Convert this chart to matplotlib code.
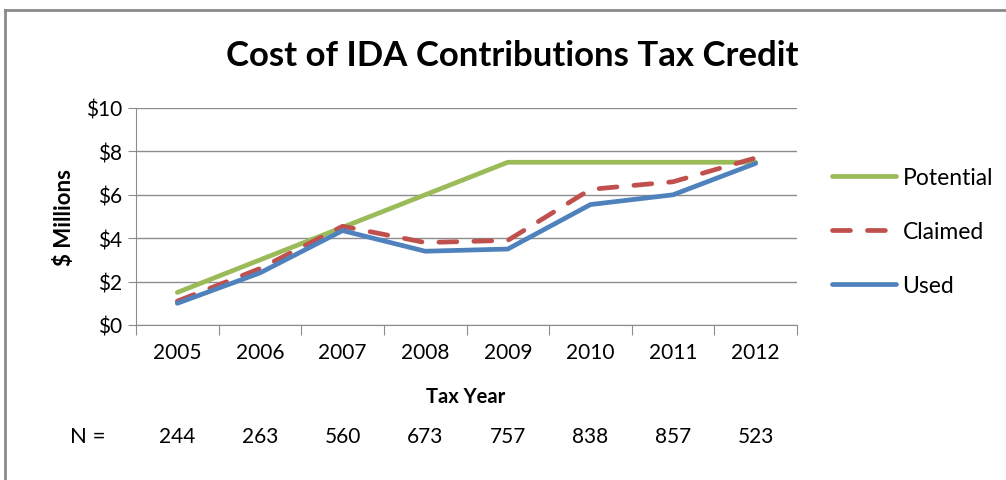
import numpy as np
import matplotlib.pyplot as plt
from matplotlib.lines import Line2D
import matplotlib.transforms as mtransforms

plt.rcParams['font.family'] = ['Lato', 'DejaVu Sans']

years = ["2005", "2006", "2007", "2008", "2009", "2010", "2011", "2012"]
potential = [1.5, 3.0, 4.5, 6.0, 7.5, 7.5, 7.5, 7.5]
claimed = [1.1, 2.6, 4.55, 3.8, 3.9, 6.25, 6.6, 7.7]
used = [1.0, 2.4, 4.35, 3.4, 3.5, 5.55, 6.0, 7.45]
n_counts = [244, 263, 560, 673, 757, 838, 857, 523]

fig = plt.figure(figsize=(10.06, 4.81), dpi=100)
ax = fig.add_axes([136 / 1006, 1 - 326 / 481, (797 - 136) / 1006, (326 - 109) / 481])

x = np.arange(len(years))
ax.plot(x, potential, color="#9BBB59", lw=3.4, label="Potential", solid_capstyle="round")
ax.plot(x, claimed, color="#C0504D", lw=3.4, label="Claimed", dashes=(3.8, 3.6),
        dash_capstyle="round")
ax.plot(x, used, color="#4F81BD", lw=3.4, label="Used", solid_capstyle="round")

ax.set_xlim(-0.5, len(years) - 0.5)
ax.set_ylim(0, 10)
ax.set_yticks(np.arange(0, 11, 2))
ax.set_yticklabels([f"${v}" for v in range(0, 11, 2)])
ax.yaxis.grid(True, color="#8c8c8c", lw=1)
ax.set_axisbelow(True)

ax.set_xticks(np.arange(-0.5, len(years)), minor=False)
ax.set_xticklabels([])
ax.set_xticks(x, minor=True)
ax.set_xticklabels(years, minor=True)
ax.tick_params(axis="x", which="major", direction="out", length=7, color="#8c8c8c")
ax.tick_params(axis="x", which="minor", length=0, pad=12, labelsize=15)
ax.tick_params(axis="y", direction="out", length=6, color="#8c8c8c", labelsize=15, pad=4)

for s in ["top", "right"]:
    ax.spines[s].set_visible(False)
for s in ["left", "bottom"]:
    ax.spines[s].set_color("#8c8c8c")

ax.set_ylabel("$ Millions", fontsize=16, fontweight="bold", labelpad=8)

fig.text(512 / 1006, 1 - 56 / 481, "Cost of IDA Contributions Tax Credit",
         ha="center", va="center", fontsize=25, fontweight="bold")

trans = mtransforms.blended_transform_factory(ax.transData, fig.transFigure)
fig.text(466 / 1006, 1 - 397 / 481, "Tax Year", ha="center", va="center",
         fontsize=14.5, fontweight="bold")
fig.text(88 / 1006, 1 - 437 / 481, "N =", ha="center", va="center", fontsize=16)
for xi, n in zip(x, n_counts):
    ax.text(xi, 1 - 437 / 481, str(n), transform=trans, ha="center", va="center",
            fontsize=15)

leg = ax.legend(loc="center left", bbox_to_anchor=(1.021, 0.43), frameon=False,
                fontsize=16.5, handlelength=2.8, handletextpad=0.3, labelspacing=1.45)

# outer chart border (only left and top visible)
fig.add_artist(Line2D([5 / 1006, 5 / 1006], [0, 1 - 11 / 481], transform=fig.transFigure,
                      color="#8a8a8a", lw=2))
fig.add_artist(Line2D([5 / 1006, 1], [1 - 11 / 481, 1 - 11 / 481], transform=fig.transFigure,
                      color="#8a8a8a", lw=2))

fig.savefig("out.png", dpi=100)
